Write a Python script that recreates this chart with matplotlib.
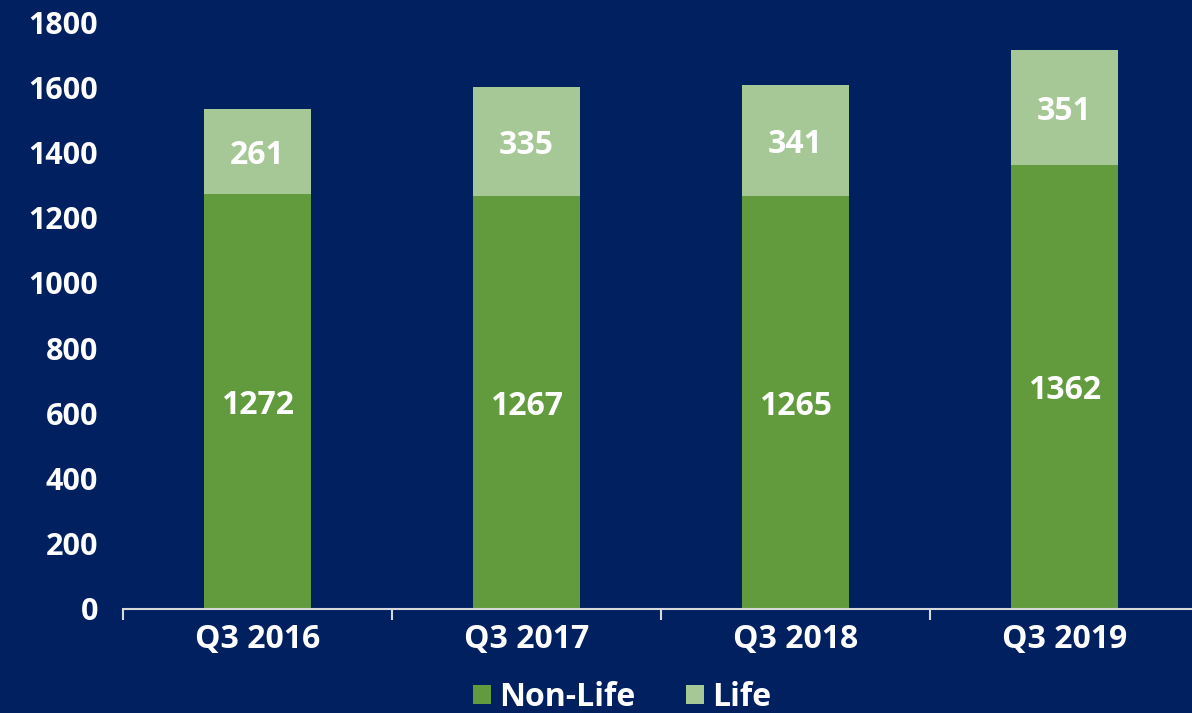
import matplotlib.pyplot as plt
import numpy as np

quarters = ['Q3 2016', 'Q3 2017', 'Q3 2018', 'Q3 2019']
non_life = [1272, 1267, 1265, 1362]
life = [261, 335, 341, 351]

bg = '#012060'
c_non = '#629A3E'
c_life = '#A6C796'

plt.rcParams['font.family'] = ['Open Sans', 'DejaVu Sans']
plt.rcParams['font.weight'] = 'bold'

fig = plt.figure(figsize=(11.92, 7.13), dpi=100, facecolor=bg)
ax = fig.add_axes([123/1192, 1-609/713, 1076/1192, 587/713])
ax.set_facecolor(bg)

x = np.arange(len(quarters))
b1 = ax.bar(x, non_life, width=0.4, color=c_non, label='Non-Life')
b2 = ax.bar(x, life, width=0.4, bottom=non_life, color=c_life, label='Life')

for i in range(len(x)):
    ax.text(x[i], non_life[i]/2, str(non_life[i]), ha='center', va='center_baseline',
            color='white', fontsize=23, fontweight='bold')
    ax.text(x[i], non_life[i] + life[i]/2, str(life[i]), ha='center', va='center_baseline',
            color='white', fontsize=23, fontweight='bold')

ax.set_xlim(-0.5, 3.5)
ax.set_ylim(0, 1800)
ax.set_yticks(range(0, 1801, 200))
ax.tick_params(axis='y', length=0, labelsize=22, labelcolor='white', pad=18)
for t in ax.get_yticklabels():
    t.set_fontweight('bold')

ax.set_xticks(x)
ax.set_xticklabels(quarters, fontsize=23, color='white', fontweight='bold')
ax.tick_params(axis='x', length=0, pad=10)
ax.set_xticks(np.arange(-0.5, 4, 1), minor=True)
ax.tick_params(axis='x', which='minor', length=8, color='#D9D9D9', width=1.5, direction='out')

for s in ['top', 'right', 'left']:
    ax.spines[s].set_visible(False)
ax.spines['bottom'].set_color('#D9D9D9')
ax.spines['bottom'].set_linewidth(1.5)

leg = fig.legend(handles=[b1, b2], loc='center', bbox_to_anchor=(622/1192, 1-697/713),
                 ncol=2, frameon=False, fontsize=23, handlelength=0.55, handleheight=0.55,
                 handletextpad=0.25, columnspacing=1.6)
for t in leg.get_texts():
    t.set_color('white')
    t.set_fontweight('bold')

fig.savefig('out.png', dpi=100, facecolor=bg)
